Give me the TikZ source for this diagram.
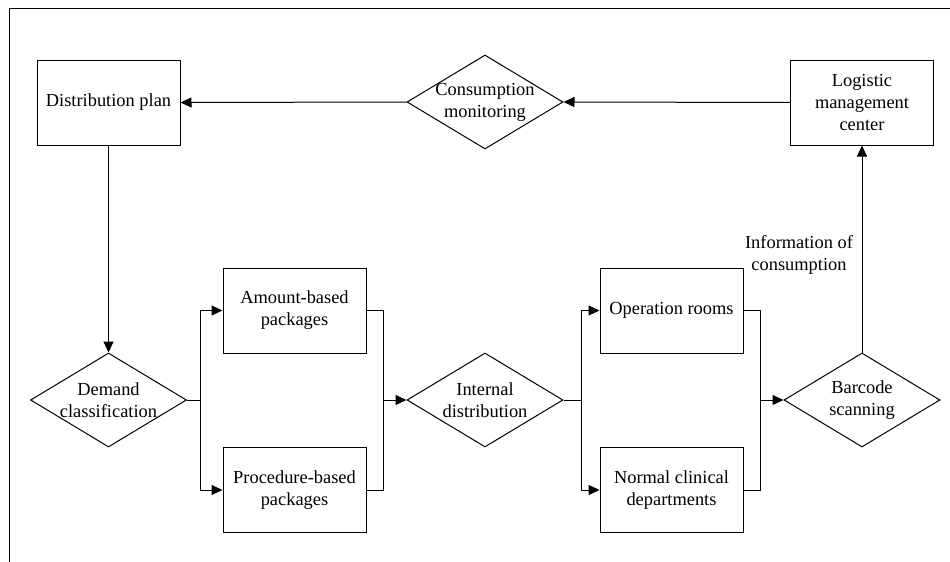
\documentclass[tikz,border=0pt]{standalone}
\usepackage{fontspec}
\setmainfont{Liberation Serif}
\usetikzlibrary{shapes.geometric,arrows.meta}
\begin{document}
\begin{tikzpicture}[x=0.5pt,y=-0.5pt,
  every node/.style={font=\fontsize{9.2}{11}\selectfont, align=center},
  boxnode/.style={draw, line width=0.5pt, minimum width=71.5pt, minimum height=42.5pt, inner sep=0pt},
  dnode/.style={draw, line width=0.5pt, diamond, aspect=1.66, inner xsep=-10pt, inner ysep=-6pt, minimum width=78pt, minimum height=47pt},
  conn/.style={line width=0.5pt},
  arr/.style={line width=0.5pt, -{Triangle[length=5.5pt,width=5pt]}}]
\useasboundingbox (0,0) rectangle (950,562);
\draw[line width=0.5pt] (9,562) -- (9,8) -- (950,8);
\node[boxnode] (dp) at (108.5,102.5) {Distribution plan};
\node[boxnode] (log) at (862,102.5) {Logistic\\management\\center};
\node[dnode] (cm) at (485,102) {Consumption\\monitoring};
\node[dnode] (dc) at (108.5,400) {Demand\\classification};
\node[boxnode] (ab) at (294.5,310.5) {Amount-based\\packages};
\node[boxnode] (pb) at (294.5,490) {Procedure-based\\packages};
\node[dnode] (id) at (485,400) {Internal\\distribution};
\node[boxnode] (or) at (671.5,310.5) {Operation rooms};
\node[boxnode] (nc) at (671.5,490) {Normal clinical\\departments};
\node[dnode] (bs) at (862,400) {Barcode\\scanning};
\node (info) at (799,255) {Information of\\consumption};
\coordinate (b1) at (200,400);
\coordinate (m1) at (383,400);
\coordinate (b2) at (581,400);
\coordinate (m2) at (760,400);
\draw[arr] (log.west) -- (cm.east);
\draw[arr] (cm.west) -- (dp.east);
\draw[arr] (dp.south) -- (dc.north);
\draw[conn] (dc.east) -- (b1);
\draw[arr] (b1) |- (ab.west);
\draw[arr] (b1) |- (pb.west);
\draw[conn] (ab.east) -| (m1);
\draw[conn] (pb.east) -| (m1);
\draw[arr] (m1) -- (id.west);
\draw[conn] (id.east) -- (b2);
\draw[arr] (b2) |- (or.west);
\draw[arr] (b2) |- (nc.west);
\draw[conn] (or.east) -| (m2);
\draw[conn] (nc.east) -| (m2);
\draw[arr] (m2) -- (bs.west);
\draw[arr] (bs.north) -- (log.south);
\end{tikzpicture}
\end{document}
